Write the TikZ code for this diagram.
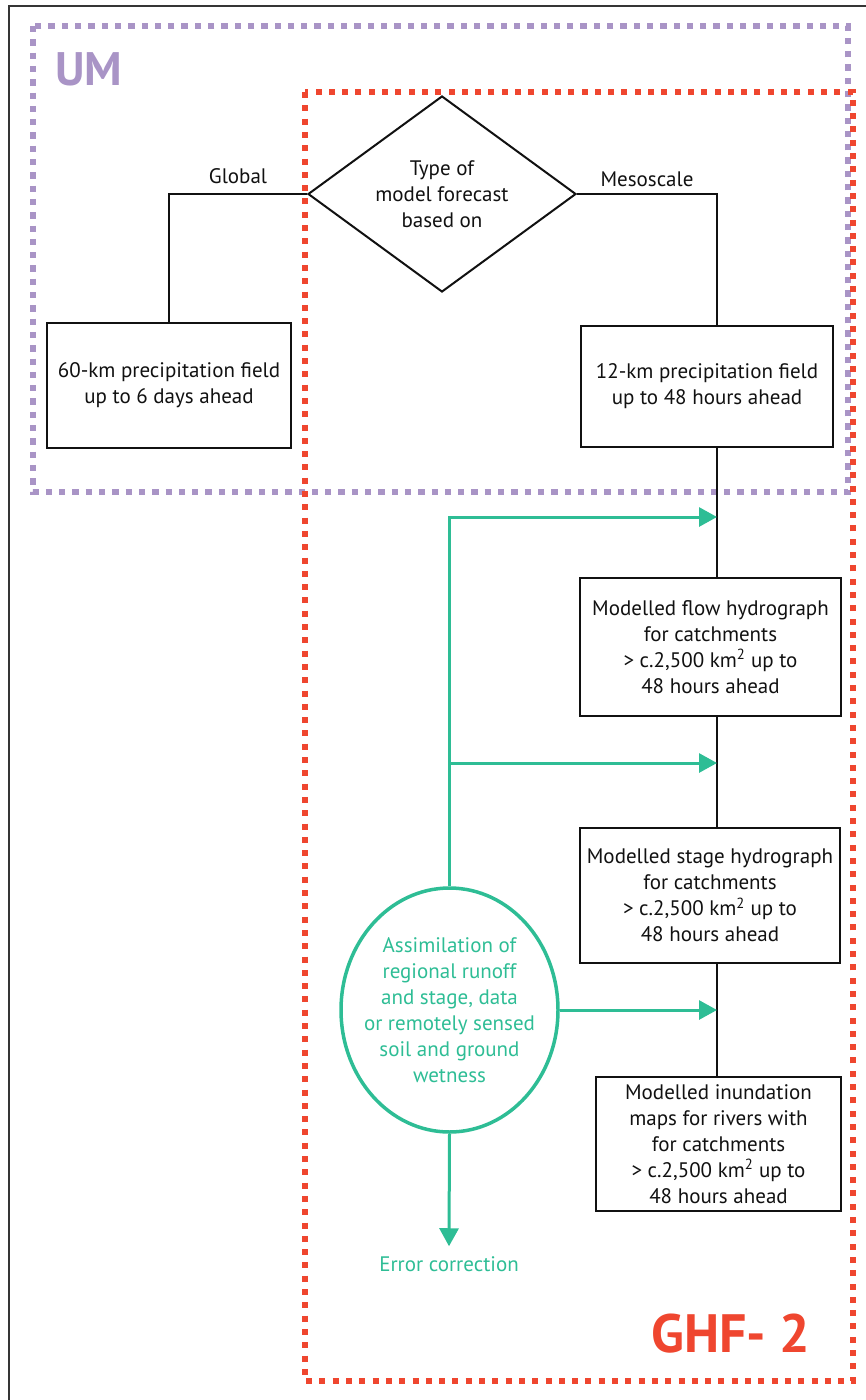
\documentclass[tikz,border=0pt]{standalone}
\usepackage{fontspec}
\setmainfont{PT Sans}
\usetikzlibrary{positioning, arrows.meta, shapes.geometric}
\definecolor{ghfPurple}{HTML}{A994C6}
\definecolor{ghfRed}{HTML}{EF462F}
\definecolor{ghfGreen}{HTML}{2EBD95}
\definecolor{ghfInk}{HTML}{111111}

\begin{document}
\begin{tikzpicture}[
    x=1pt, y=-1pt,
    every node/.style={font=\fontsize{21}{26}\selectfont, text=ghfInk},
    flowline/.style={line width=2pt, draw=ghfInk},
    stepbox/.style={draw=ghfInk, line width=2pt, align=center, inner sep=0pt},
    feedline/.style={line width=3pt, draw=ghfGreen, -{Triangle[length=18pt, width=19pt]}},
    umframe/.style={draw=ghfPurple, line width=6.3pt, dash pattern=on 6.3pt off 7pt},
    ghfframe/.style={draw=ghfRed, line width=6pt, dash pattern=on 6pt off 7.3pt},
    branchlabel/.style={anchor=base, inner sep=0pt}
]
\useasboundingbox (0,0) rectangle (866,1400);

% ============================
% Sheet border and frames
% ============================
\draw[line width=2pt, draw=ghfInk!85] (9,1400) -- (9,6) -- (866,6);

\draw[umframe] (33,26) rectangle (848,492);
\draw[ghfframe] (305,92) rectangle (853,1381);

\node[font=\fontsize{47}{50}\selectfont\bfseries, text=ghfPurple, anchor=base west, inner sep=0pt] (umtitle) at (55,85) {UM};
\node[font=\fontsize{54}{58}\selectfont\bfseries, text=ghfRed, anchor=base west, inner sep=0pt] (ghftitle) at (651,1352) {GHF- 2};

% ============================
% Model forecast branch
% ============================
\node[diamond, draw=ghfInk, line width=2pt, aspect=1.37, minimum width=268pt, minimum height=196pt, inner sep=0pt, align=center]
    (forecast) at (442,194) {Type of\\model forecast\\based on};

\node[stepbox, minimum width=244pt, minimum height=125pt] (globfield) at (169,385.5) {60-km precipitation field\\up to 6 days ahead};
\node[stepbox, minimum width=252pt, minimum height=121pt] (mesofield) at (707,386) {12-km precipitation field\\up to 48 hours ahead};

% ============================
% Hydrological chain
% ============================
\node[stepbox, minimum width=261pt, minimum height=138pt] (flowhyd) at (710.5,647)
    {Modelled flow hydrograph\\for catchments\\> c.2,500 km\textsuperscript{2} up to\\48 hours ahead};
\node[stepbox, minimum width=260pt, minimum height=135pt] (stagehyd) at (710,895.5)
    {Modelled stage hydrograph\\for catchments\\> c.2,500 km\textsuperscript{2} up to\\48 hours ahead};
\node[stepbox, minimum width=245pt, minimum height=134pt] (inundmap) at (718.5,1144)
    {Modelled inundation\\maps for rivers with\\for catchments\\> c.2,500 km\textsuperscript{2} up to\\48 hours ahead};

\coordinate (trunk) at (717,0);

\draw[flowline] (forecast.west) -| node[branchlabel, pos=0.25, yshift=11pt] (globlabel) {Global} (globfield.north);
\draw[flowline] (forecast.east) -| node[branchlabel, pos=0.25, yshift=8pt] (mesolabel) {Mesoscale} (mesofield.north -| trunk);
\draw[flowline] (mesofield.south -| trunk) -- (flowhyd.north -| trunk);
\draw[flowline] (flowhyd.south -| trunk) -- (stagehyd.north -| trunk);
\draw[flowline] (stagehyd.south -| trunk) -- (inundmap.north -| trunk);

% ============================
% Assimilation feedback (green)
% ============================
\node[ellipse, draw=ghfGreen, line width=3.5pt, minimum width=217pt, minimum height=244pt, inner sep=0pt] (assim) at (449.5,1010) {};
\node[text=ghfGreen, align=center] (assimtext) at (assim.center)
    {Assimilation of\\regional runoff\\and stage, data\\or remotely sensed\\soil and ground\\wetness};

\coordinate (feedA) at (717,517);
\coordinate (feedB) at (717,763);
\draw[feedline] (assim.north) |- (feedA);
\draw[feedline] (assim.north |- feedB) -- (feedB);
\draw[feedline] (assim.east) -- (assim.east -| trunk);

\node[text=ghfGreen, inner sep=10pt] (errcorr) at (449,1264) {Error correction};
\draw[feedline] (assim.south) -- (errcorr.north);

\end{tikzpicture}
\end{document}
